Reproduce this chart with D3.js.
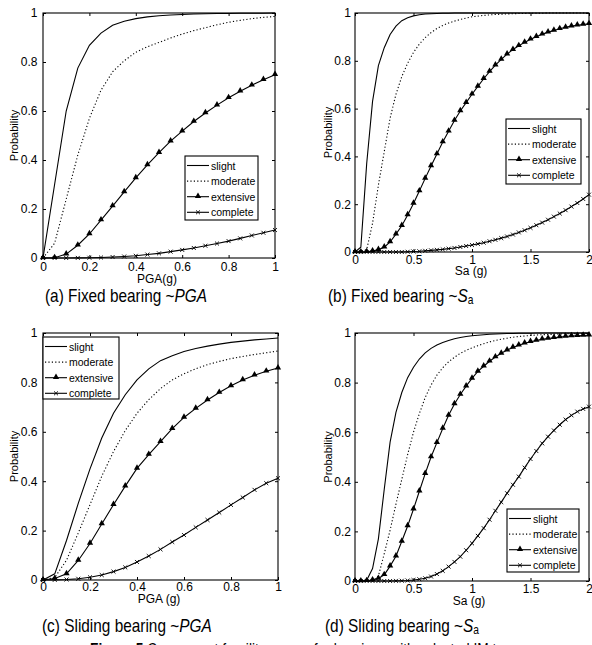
<!DOCTYPE html>
<html>
<head>
<meta charset="utf-8">
<style>
  body { margin:0; background:#fff; }
  svg { display:block; font-family:"Liberation Sans", Arial, sans-serif; }
  .tick text { font-size:12px; fill:#000; }
  .tick line { stroke:#000; }
</style>
</head>
<body>
<script src="https://d3js.org/d3.v7.min.js"></script>
<script>
// intensity grids
var pgaX = [0,0.05,0.1,0.15,0.2,0.25,0.3,0.35,0.4,0.45,0.5,0.55,0.6,0.65,0.7,0.75,0.8,0.85,0.9,0.95,1];
var saX = [0,0.05,0.1,0.15,0.2,0.25,0.3,0.35,0.4,0.45,0.5,0.55,0.6,0.65,0.7,0.75,0.8,0.85,0.9,0.95,1,
           1.05,1.1,1.15,1.2,1.25,1.3,1.35,1.4,1.45,1.5,1.55,1.6,1.65,1.7,1.75,1.8,1.85,1.9,1.95,2];
var stateNames = ["slight","moderate","extensive","complete"];

// (a) fixed bearing ~ PGA
var slightA    = [0,0.3,0.6,0.775,0.868,0.918,0.95,0.966,0.977,0.984,0.989,0.992,0.994,0.996,0.997,0.998,0.998,0.999,0.999,0.999,1];
var moderateA  = [0,0.06,0.24,0.42,0.57,0.685,0.76,0.805,0.84,0.862,0.88,0.898,0.914,0.928,0.94,0.952,0.962,0.97,0.977,0.982,0.986];
var extensiveA = [0,0.001,0.016,0.052,0.098,0.155,0.212,0.27,0.327,0.38,0.43,0.477,0.518,0.557,0.592,0.624,0.654,0.681,0.705,0.728,0.748];
var completeA  = [0,0,0,0.0005,0.001,0.002,0.004,0.006,0.009,0.014,0.019,0.026,0.033,0.041,0.05,0.059,0.069,0.08,0.092,0.103,0.114];

// (b) fixed bearing ~ Sa
var slightB    = [0,0.02,0.37,0.63,0.78,0.855,0.91,0.945,0.968,0.98,0.988,0.993,0.996,0.997,0.998,0.999,0.999,
                  1,1,1,1,1,1,1,1,1,1,1,1,1,1,1,1,1,1,1,1,1,1,1,1];
var moderateB  = [0,0.001,0.01,0.12,0.28,0.42,0.56,0.66,0.734,0.79,0.835,0.87,0.897,0.918,0.935,0.948,0.958,0.966,0.973,0.979,0.984,
                  0.987,0.99,0.992,0.994,0.995,0.996,0.997,0.998,0.998,0.999,0.999,0.999,1,1,1,1,1,1,1,1];
var extensiveB = [0,0,0.001,0.004,0.01,0.02,0.042,0.075,0.11,0.155,0.203,0.255,0.308,0.36,0.41,0.46,0.505,0.55,0.59,0.625,0.66,
                  0.693,0.725,0.755,0.782,0.806,0.828,0.847,0.863,0.877,0.89,0.901,0.911,0.92,0.927,0.934,0.94,0.945,0.949,0.952,0.955];
var completeB  = [0,0,0,0,0,0,0,0,0,0.001,0.002,0.003,0.005,0.007,0.009,0.011,0.014,0.017,0.021,0.025,0.029,
                  0.034,0.039,0.045,0.051,0.058,0.065,0.073,0.082,0.091,0.101,0.112,0.123,0.135,0.148,0.161,0.175,0.19,0.205,0.222,0.24];

// (c) sliding bearing ~ PGA
var slightC    = [0,0.025,0.16,0.31,0.45,0.575,0.675,0.75,0.81,0.855,0.888,0.908,0.925,0.937,0.947,0.955,0.962,0.967,0.972,0.976,0.98];
var moderateC  = [0,0.01,0.08,0.19,0.305,0.42,0.52,0.605,0.675,0.73,0.775,0.81,0.835,0.855,0.872,0.885,0.896,0.905,0.913,0.92,0.927];
var extensiveC = [0,0.006,0.025,0.079,0.148,0.227,0.305,0.38,0.452,0.508,0.56,0.613,0.658,0.695,0.729,0.759,0.786,0.81,0.829,0.845,0.858];
var completeC  = [0,0.0005,0.002,0.005,0.011,0.02,0.034,0.051,0.073,0.097,0.124,0.154,0.182,0.213,0.243,0.273,0.304,0.334,0.365,0.392,0.412];

// (d) sliding bearing ~ Sa
var slightD    = [0,0,0.003,0.05,0.17,0.37,0.56,0.68,0.76,0.82,0.862,0.895,0.92,0.938,0.952,0.962,0.97,0.977,0.982,0.986,0.989,
                  0.991,0.993,0.995,0.996,0.997,0.998,0.998,0.999,0.999,0.999,1,1,1,1,1,1,1,1,1,1];
var moderateD  = [0,0,0,0,0.02,0.11,0.205,0.31,0.41,0.51,0.6,0.675,0.74,0.79,0.83,0.86,0.884,0.902,0.918,0.93,0.94,
                  0.949,0.957,0.964,0.97,0.975,0.979,0.983,0.986,0.988,0.99,0.992,0.993,0.994,0.995,0.996,0.997,0.997,0.998,0.998,0.999];
var extensiveD = [0,0,0.001,0.004,0.01,0.025,0.06,0.1,0.16,0.222,0.29,0.362,0.433,0.5,0.558,0.615,0.668,0.714,0.752,0.786,0.817,
                  0.845,0.866,0.886,0.903,0.918,0.931,0.942,0.951,0.959,0.965,0.97,0.975,0.978,0.981,0.984,0.986,0.988,0.989,0.99,0.991];
var completeD  = [0,0,0,0,0,0,0,0.0005,0.001,0.002,0.004,0.007,0.011,0.018,0.028,0.041,0.058,0.077,0.098,0.124,0.152,
                  0.182,0.213,0.247,0.283,0.318,0.354,0.388,0.421,0.457,0.492,0.524,0.555,0.582,0.607,0.63,0.651,0.668,0.683,0.694,0.703];

var pgaTicks = [0,0.2,0.4,0.6,0.8,1];
var saTicks = [0,0.5,1,1.5,2];
var probTicks = [0,0.2,0.4,0.6,0.8,1];

var svg = d3.select("body").append("svg")
    .attr("width", 592)
    .attr("height", 645);

var panels = [
  {l:43, r:275, t:13, b:258, xs:pgaX, xmax:1, xticks:pgaTicks,
   series:[slightA,moderateA,extensiveA,completeA],
   xlabel:"PGA(g)", xlx:157, xly:283, xpad:4.5, ypad:5.5, ylx:18,
   leg:{x:185, y:156, w:73, h:64}},
  {l:355, r:589, t:13, b:252, xs:saX, xmax:2, xticks:saTicks,
   series:[slightB,moderateB,extensiveB,completeB],
   xlabel:"Sa (g)", xlx:471, xly:274.5, xpad:3, ypad:4, ylx:332,
   leg:{x:506, y:119, w:75, h:65}},
  {l:43, r:278, t:333, b:580, xs:pgaX, xmax:1, xticks:pgaTicks,
   series:[slightC,moderateC,extensiveC,completeC],
   xlabel:"PGA (g)", xlx:159, xly:602.5, xpad:2.5, ypad:5.5, ylx:18,
   leg:{x:43, y:337, w:76, h:62}},
  {l:355, r:589, t:333, b:581, xs:saX, xmax:2, xticks:saTicks,
   series:[slightD,moderateD,extensiveD,completeD],
   xlabel:"Sa (g)", xlx:469, xly:604.5, xpad:3, ypad:4, ylx:332,
   leg:{x:507, y:509, w:72, h:63}}
];

var triangle = d3.symbol().type(d3.symbolTriangle).size(17);
var cross = d3.symbol().type(d3.symbolX).size(12);

function drawMarkers(g, pts, k) {
  if (k === 2) {
    g.selectAll(null).data(pts).enter().append("path")
      .attr("d", triangle)
      .attr("transform", function(p) { return "translate(" + p[0] + "," + (p[1] - 0.5) + ")"; })
      .attr("fill", "#000");
  } else if (k === 3) {
    g.selectAll(null).data(pts).enter().append("path")
      .attr("d", cross)
      .attr("transform", function(p) { return "translate(" + p[0] + "," + p[1] + ")"; })
      .attr("fill", "none").attr("stroke", "#000").attr("stroke-width", 0.9);
  }
}

panels.forEach(function(p) {
  var x = d3.scaleLinear().domain([0, p.xmax]).range([p.l, p.r]);
  var y = d3.scaleLinear().domain([0, 1]).range([p.b, p.t]);
  var g = svg.append("g");

  var fmt = function(d) { return String(d); };

  g.append("g").attr("transform", "translate(0," + p.b + ")")
    .call(d3.axisBottom(x).tickValues(p.xticks).tickSizeInner(-3).tickSizeOuter(0)
      .tickPadding(p.xpad).tickFormat(fmt));
  g.append("g").attr("transform", "translate(0," + p.t + ")")
    .call(d3.axisTop(x).tickValues(p.xticks).tickSizeInner(-3).tickSizeOuter(0).tickFormat(""));
  g.append("g").attr("transform", "translate(" + p.l + ",0)")
    .call(d3.axisLeft(y).tickValues(probTicks).tickSizeInner(-3).tickSizeOuter(0)
      .tickPadding(p.ypad).tickFormat(fmt));
  g.append("g").attr("transform", "translate(" + p.r + ",0)")
    .call(d3.axisRight(y).tickValues(probTicks).tickSizeInner(-3).tickSizeOuter(0).tickFormat(""));
  g.selectAll(".domain").remove();
  g.selectAll(".tick text").attr("font-family", null).attr("font-size", 12);

  // curves
  p.series.forEach(function(vals, k) {
    var line = d3.line()
      .x(function(d, i) { return x(p.xs[i]); })
      .y(function(d) { return y(d); });
    g.append("path")
      .datum(vals)
      .attr("d", line)
      .attr("fill", "none")
      .attr("stroke", "#000")
      .attr("stroke-width", 1.1)
      .attr("stroke-dasharray", k === 1 ? "1.2,2.2" : null);
    var pts = vals.map(function(d, i) { return [x(p.xs[i]), y(d)]; });
    drawMarkers(g, pts, k);
  });

  // frame
  g.append("rect")
    .attr("x", p.l).attr("y", p.t)
    .attr("width", p.r - p.l).attr("height", p.b - p.t)
    .attr("fill", "none").attr("stroke", "#000").attr("stroke-width", 1.1);

  // axis titles
  g.append("text")
    .attr("x", p.xlx).attr("y", p.xly)
    .attr("text-anchor", "middle")
    .attr("font-size", 12)
    .text(p.xlabel);
  g.append("text")
    .attr("transform", "translate(" + p.ylx + "," + ((p.t + p.b) / 2) + ") rotate(-90)")
    .attr("text-anchor", "middle")
    .attr("font-size", 11)
    .text("Probability");

  // legend
  var lg = g.append("g").attr("transform", "translate(" + p.leg.x + "," + p.leg.y + ")");
  lg.append("rect")
    .attr("width", p.leg.w).attr("height", p.leg.h)
    .attr("fill", "#fff").attr("stroke", "#000").attr("stroke-width", 1.1);
  stateNames.forEach(function(name, k) {
    var ry = 9.5 + k * 15.6;
    lg.append("line")
      .attr("x1", 2).attr("x2", 24).attr("y1", ry).attr("y2", ry)
      .attr("stroke", "#000").attr("stroke-width", 1.1)
      .attr("stroke-dasharray", k === 1 ? "1.2,2.2" : null);
    drawMarkers(lg, [[13, ry]], k);
    lg.append("text")
      .attr("x", 26).attr("y", ry + 4)
      .attr("font-size", 10.5)
      .text(name);
  });
});

// sub-figure captions (narrow face)
var captions = [
  {x:45, y:302, pre:"(a) Fixed bearing ~", it:"PGA", sub:""},
  {x:328, y:302, pre:"(b) Fixed bearing ~", it:"S", sub:"a"},
  {x:42, y:632, pre:"(c) Sliding bearing ~", it:"PGA", sub:""},
  {x:325, y:632, pre:"(d) Sliding bearing ~", it:"S", sub:"a"}
];
captions.forEach(function(c) {
  var t = svg.append("text")
    .attr("transform", "translate(" + c.x + "," + c.y + ") scale(0.855,1)")
    .attr("font-size", 18);
  t.append("tspan").text(c.pre);
  t.append("tspan").attr("font-style", "italic").text(c.it);
  if (c.sub) t.append("tspan").attr("font-size", 12).attr("dy", 2).text(c.sub);
});

// figure title, clipped by the bottom edge as in the source
var fig = svg.append("text")
  .attr("transform", "translate(90,655) scale(0.86,1)")
  .attr("font-size", 16);
fig.append("tspan").attr("font-weight", "bold").text("Figure 5 ");
fig.append("tspan").text("Component fragility curves for bearings with selected IM types");
</script>
</body>
</html>
